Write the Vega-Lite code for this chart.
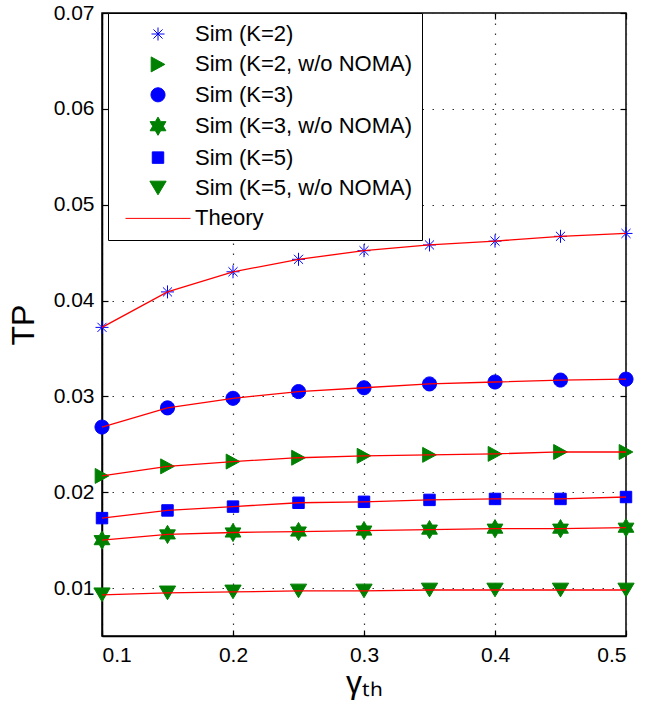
{
  "$schema": "https://vega.github.io/schema/vega-lite/v6.json",
  "width": 524,
  "height": 623,
  "autosize": {"type": "none"},
  "padding": {"left": 102, "top": 13, "right": 30, "bottom": 79},
  "config": {
    "font": "Liberation Sans",
    "view": {"stroke": "black", "strokeWidth": 1.5},
    "axis": {
      "labelFontSize": 21,
      "labelColor": "black",
      "labelFont": "Liberation Sans",
      "titleFont": "Liberation Sans",
      "titleColor": "black",
      "titleFontWeight": "normal",
      "domainColor": "black",
      "domainWidth": 1.5,
      "tickColor": "black",
      "tickWidth": 1.2,
      "tickSize": -6,
      "gridColor": "#333333",
      "gridWidth": 1.2,
      "gridDash": [1.5, 8.5]
    },
    "legend": {
      "orient": "none",
      "legendX": 6,
      "legendY": 0,
      "padding": 10,
      "strokeColor": "black",
      "fillColor": "white",
      "labelFontSize": 22,
      "labelFont": "Liberation Sans",
      "labelColor": "black",
      "labelLimit": 400,
      "symbolSize": 169,
      "symbolStrokeWidth": 1,
      "symbolOffset": 29,
      "labelOffset": 26,
      "rowPadding": 8.4,
      "symbolOpacity": 1
    }
  },
  "data": {
    "values": [
      {"x": 0.1, "series": "Sim (K=2)", "tp": 0.0372},
      {"x": 0.15, "series": "Sim (K=2)", "tp": 0.0409},
      {"x": 0.2, "series": "Sim (K=2)", "tp": 0.0430},
      {"x": 0.25, "series": "Sim (K=2)", "tp": 0.0443},
      {"x": 0.3, "series": "Sim (K=2)", "tp": 0.0452},
      {"x": 0.35, "series": "Sim (K=2)", "tp": 0.0458},
      {"x": 0.4, "series": "Sim (K=2)", "tp": 0.0462},
      {"x": 0.45, "series": "Sim (K=2)", "tp": 0.0467},
      {"x": 0.5, "series": "Sim (K=2)", "tp": 0.0470},
      {"x": 0.1, "series": "Sim (K=2, w/o NOMA)", "tp": 0.0217},
      {"x": 0.15, "series": "Sim (K=2, w/o NOMA)", "tp": 0.0227},
      {"x": 0.2, "series": "Sim (K=2, w/o NOMA)", "tp": 0.0232},
      {"x": 0.25, "series": "Sim (K=2, w/o NOMA)", "tp": 0.0236},
      {"x": 0.3, "series": "Sim (K=2, w/o NOMA)", "tp": 0.0238},
      {"x": 0.35, "series": "Sim (K=2, w/o NOMA)", "tp": 0.0239},
      {"x": 0.4, "series": "Sim (K=2, w/o NOMA)", "tp": 0.0240},
      {"x": 0.45, "series": "Sim (K=2, w/o NOMA)", "tp": 0.0242},
      {"x": 0.5, "series": "Sim (K=2, w/o NOMA)", "tp": 0.0242},
      {"x": 0.1, "series": "Sim (K=3)", "tp": 0.0268},
      {"x": 0.15, "series": "Sim (K=3)", "tp": 0.0288},
      {"x": 0.2, "series": "Sim (K=3)", "tp": 0.0298},
      {"x": 0.25, "series": "Sim (K=3)", "tp": 0.0305},
      {"x": 0.3, "series": "Sim (K=3)", "tp": 0.0309},
      {"x": 0.35, "series": "Sim (K=3)", "tp": 0.0313},
      {"x": 0.4, "series": "Sim (K=3)", "tp": 0.0315},
      {"x": 0.45, "series": "Sim (K=3)", "tp": 0.0317},
      {"x": 0.5, "series": "Sim (K=3)", "tp": 0.0318},
      {"x": 0.1, "series": "Sim (K=3, w/o NOMA)", "tp": 0.0150},
      {"x": 0.15, "series": "Sim (K=3, w/o NOMA)", "tp": 0.0156},
      {"x": 0.2, "series": "Sim (K=3, w/o NOMA)", "tp": 0.0158},
      {"x": 0.25, "series": "Sim (K=3, w/o NOMA)", "tp": 0.0159},
      {"x": 0.3, "series": "Sim (K=3, w/o NOMA)", "tp": 0.0160},
      {"x": 0.35, "series": "Sim (K=3, w/o NOMA)", "tp": 0.0161},
      {"x": 0.4, "series": "Sim (K=3, w/o NOMA)", "tp": 0.0162},
      {"x": 0.45, "series": "Sim (K=3, w/o NOMA)", "tp": 0.0162},
      {"x": 0.5, "series": "Sim (K=3, w/o NOMA)", "tp": 0.0163},
      {"x": 0.1, "series": "Sim (K=5)", "tp": 0.0173},
      {"x": 0.15, "series": "Sim (K=5)", "tp": 0.0181},
      {"x": 0.2, "series": "Sim (K=5)", "tp": 0.0185},
      {"x": 0.25, "series": "Sim (K=5)", "tp": 0.0189},
      {"x": 0.3, "series": "Sim (K=5)", "tp": 0.0190},
      {"x": 0.35, "series": "Sim (K=5)", "tp": 0.0192},
      {"x": 0.4, "series": "Sim (K=5)", "tp": 0.0193},
      {"x": 0.45, "series": "Sim (K=5)", "tp": 0.0193},
      {"x": 0.5, "series": "Sim (K=5)", "tp": 0.0195},
      {"x": 0.1, "series": "Sim (K=5, w/o NOMA)", "tp": 0.0093},
      {"x": 0.15, "series": "Sim (K=5, w/o NOMA)", "tp": 0.0095},
      {"x": 0.2, "series": "Sim (K=5, w/o NOMA)", "tp": 0.0096},
      {"x": 0.25, "series": "Sim (K=5, w/o NOMA)", "tp": 0.0097},
      {"x": 0.3, "series": "Sim (K=5, w/o NOMA)", "tp": 0.0097},
      {"x": 0.35, "series": "Sim (K=5, w/o NOMA)", "tp": 0.0098},
      {"x": 0.4, "series": "Sim (K=5, w/o NOMA)", "tp": 0.0098},
      {"x": 0.45, "series": "Sim (K=5, w/o NOMA)", "tp": 0.0098},
      {"x": 0.5, "series": "Sim (K=5, w/o NOMA)", "tp": 0.0098}
    ]
  },
  "layer": [
    {
      "mark": {"type": "point", "filled": true, "opacity": 1, "size": 169, "strokeWidth": 1, "clip": false},
      "encoding": {
        "x": {
          "field": "x", "type": "quantitative",
          "scale": {"domain": [0.1, 0.5], "nice": false},
          "axis": {"orient": "top", "labels": false, "grid": false, "domain": false, "title": null, "values": [0.1, 0.2, 0.3, 0.4, 0.5]}
        },
        "y": {
          "field": "tp", "type": "quantitative",
          "scale": {"domain": [0.005, 0.07], "nice": false, "zero": false},
          "axis": {"orient": "right", "labels": false, "grid": false, "domain": false, "title": null, "values": [0.01, 0.02, 0.03, 0.04, 0.05, 0.06, 0.07]}
        },
        "shape": {
          "field": "series", "type": "nominal",
          "scale": {
            "domain": ["Sim (K=2)", "Sim (K=2, w/o NOMA)", "Sim (K=3)", "Sim (K=3, w/o NOMA)", "Sim (K=5)", "Sim (K=5, w/o NOMA)", "Theory"],
            "range": [
              "M-1,0L1,0M0,-1L0,1M-0.7,-0.7L0.7,0.7M-0.7,0.7L0.7,-0.7",
              "M-1.05,-1.15L1.05,0L-1.05,1.15Z",
              "M1.08,0A1.08,1.08,0,1,1,-1.08,0A1.08,1.08,0,1,1,1.08,0Z",
              "M0,-1.4L0.404,-0.7L1.212,-0.7L0.808,0L1.212,0.7L0.404,0.7L0,1.4L-0.404,0.7L-1.212,0.7L-0.808,0L-1.212,-0.7L-0.404,-0.7Z",
              "M-0.88,-0.88L0.88,-0.88L0.88,0.88L-0.88,0.88Z",
              "M-1.25,-1.05L1.25,-1.05L0,1.05Z",
              "M-5,0L5,0"
            ]
          },
          "legend": {"title": null}
        },
        "color": {
          "field": "series", "type": "nominal",
          "scale": {
            "domain": ["Sim (K=2)", "Sim (K=2, w/o NOMA)", "Sim (K=3)", "Sim (K=3, w/o NOMA)", "Sim (K=5)", "Sim (K=5, w/o NOMA)", "Theory"],
            "range": ["#0000ff", "#008000", "#0000ff", "#008000", "#0000ff", "#008000", "#ff0000"]
          },
          "legend": {"title": null}
        },
        "stroke": {
          "field": "series", "type": "nominal",
          "scale": {
            "domain": ["Sim (K=2)", "Sim (K=2, w/o NOMA)", "Sim (K=3)", "Sim (K=3, w/o NOMA)", "Sim (K=5)", "Sim (K=5, w/o NOMA)", "Theory"],
            "range": ["#0000ff", "#008000", "#0000ff", "#008000", "#0000ff", "#008000", "#ff0000"]
          },
          "legend": {"title": null}
        }
      }
    },
    {
      "mark": {"type": "line", "strokeWidth": 1.3, "clip": false},
      "encoding": {
        "x": {
          "field": "x", "type": "quantitative",
          "axis": {"orient": "bottom", "grid": true, "values": [0.1, 0.2, 0.3, 0.4, 0.5], "format": ".1f", "labelPadding": 14, "title": "γₜₕ", "titleFontSize": 32, "titlePadding": 2}
        },
        "y": {
          "field": "tp", "type": "quantitative",
          "axis": {"orient": "left", "grid": true, "values": [0.01, 0.02, 0.03, 0.04, 0.05, 0.06, 0.07], "format": ".2f", "labelPadding": 14, "title": "TP", "titleFontSize": 32, "titlePadding": 13}
        },
        "detail": {"field": "series", "type": "nominal"},
        "color": {"datum": "Theory", "type": "nominal"}
      }
    }
  ],
  "resolve": {"axis": {"x": "independent", "y": "independent"}}
}
